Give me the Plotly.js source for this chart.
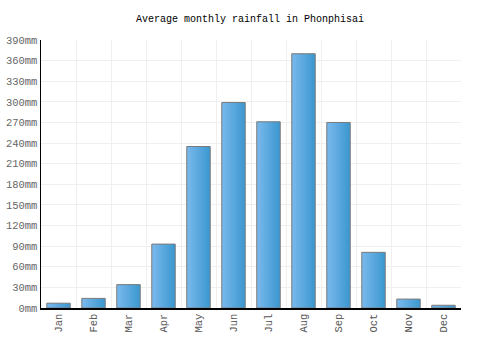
<!DOCTYPE html>
<html>
<head>
<meta charset="utf-8">
<script src="https://cdn.plot.ly/plotly-3.0.1.min.js"></script>
<style>html,body{margin:0;padding:0;background:#fff;}#chart{width:500px;height:350px;}</style>
</head>
<body>
<div id="chart"></div>
<script>
var months = ["Jan","Feb","Mar","Apr","May","Jun","Jul","Aug","Sep","Oct","Nov","Dec"];
var rainfall = [7, 14, 34, 93, 235, 299, 271, 370, 270, 81, 13, 4];
var yTickValues = [0,30,60,90,120,150,180,210,240,270,300,330,360,390];
var yTickLabels = yTickValues.map(function(v){return v + "mm";});

var trace = {
  type: "bar",
  x: months,
  y: rainfall,
  marker: {color: "#58a8e0", line: {color: "#7a7a7a", width: 1}},
  hoverinfo: "x+y"
};

var FONT = "Liberation Mono, DejaVu Sans Mono, monospace";

var layout = {
  width: 500, height: 350,
  margin: {l: 41, r: 39, t: 40, b: 42},
  paper_bgcolor: "#fff", plot_bgcolor: "#fff",
  bargap: 0.33,
  showlegend: false,
  title: {text: "Average monthly rainfall in Phonphisai", x: 0.5, xanchor: "center", y: 0.946, yanchor: "middle",
          font: {family: FONT, size: 10, color: "#000"}},
  font: {family: FONT, size: 10, color: "#666"},
  xaxis: {type: "category", tickson: "boundaries", showgrid: true, gridcolor: "#efefef", gridwidth: 1,
          showline: true, linecolor: "#000", linewidth: 1.5, ticks: "", tickangle: -90,
          tickfont: {family: FONT, size: 10.5, color: "#555"}, zeroline: false, fixedrange: true},
  yaxis: {range: [0, 390], tickvals: yTickValues, ticktext: yTickLabels, showgrid: true, gridcolor: "#efefef",
          showline: true, linecolor: "#000", linewidth: 1.5, ticks: "", zeroline: false,
          tickfont: {family: FONT, size: 10.5, color: "#666"}, fixedrange: true}
};

function applyGradient(gd){
  var svg = gd.querySelector("svg.main-svg");
  if(!svg) return;
  var ns = "http://www.w3.org/2000/svg";
  if(!document.getElementById("barGrad")){
    var defs = svg.querySelector("defs") || svg.insertBefore(document.createElementNS(ns,"defs"), svg.firstChild);
    var g = document.createElementNS(ns, "linearGradient");
    g.setAttribute("id", "barGrad");
    g.setAttribute("x1","0"); g.setAttribute("y1","0"); g.setAttribute("x2","1"); g.setAttribute("y2","0");
    var s1 = document.createElementNS(ns,"stop"); s1.setAttribute("offset","0"); s1.setAttribute("stop-color","#7ab9ed");
    var s2 = document.createElementNS(ns,"stop"); s2.setAttribute("offset","1"); s2.setAttribute("stop-color","#3a97cf");
    g.appendChild(s1); g.appendChild(s2); defs.appendChild(g);
  }
  gd.querySelectorAll(".bars .point path").forEach(function(p){ p.style.fill = "url(#barGrad)"; });
}

var gd = document.getElementById("chart");
Plotly.newPlot(gd, [trace], layout, {displayModeBar: false, staticPlot: true}).then(function(){
  applyGradient(gd);
  gd.on("plotly_afterplot", function(){ applyGradient(gd); });
});
</script>
</body>
</html>
